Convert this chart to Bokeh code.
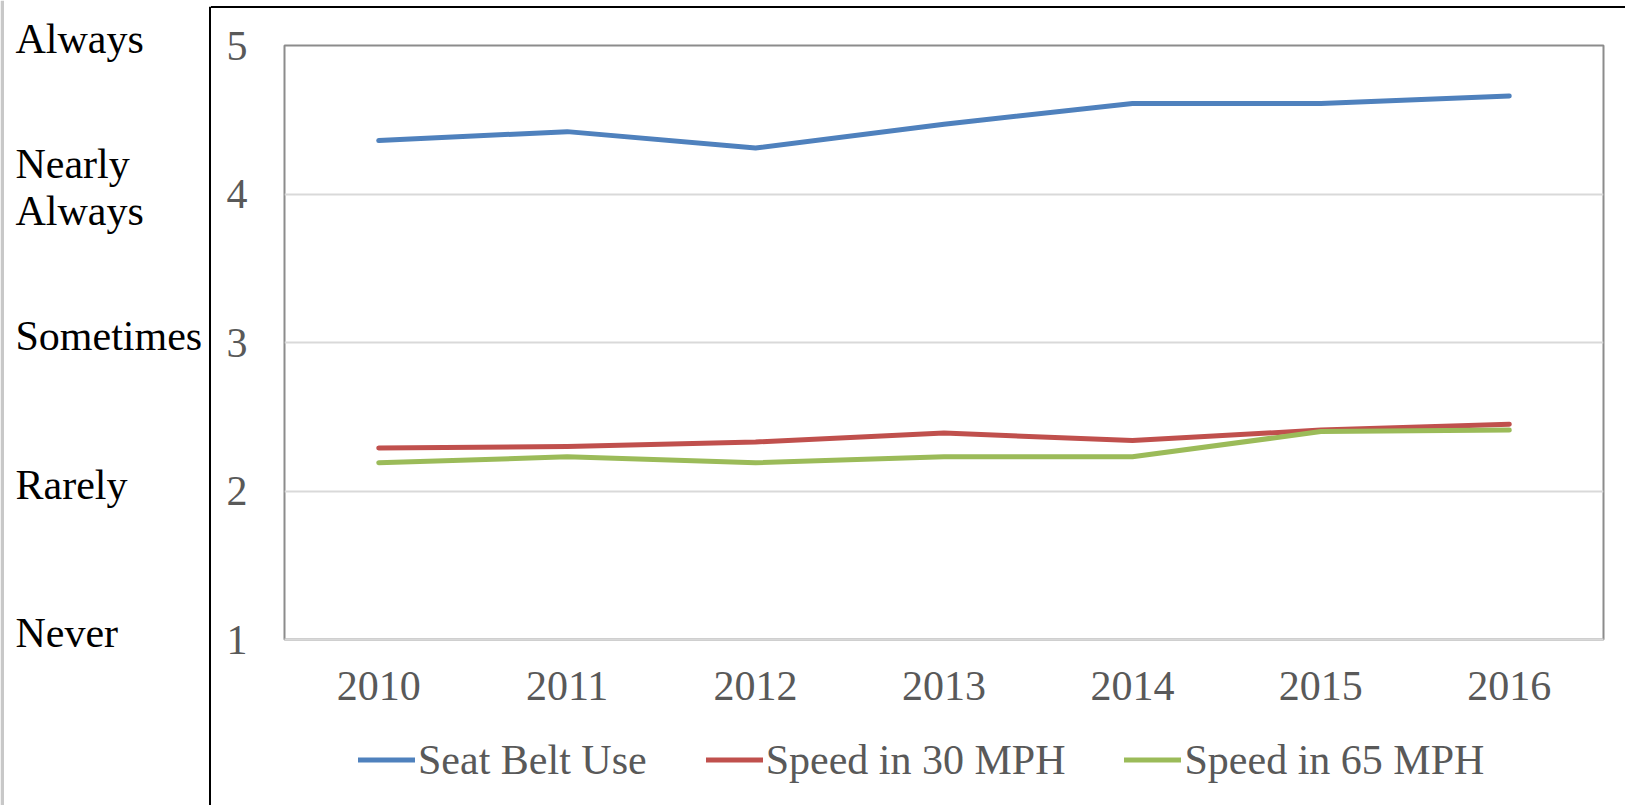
from bokeh.plotting import figure
from bokeh.models import (Range1d, FixedTicker, Legend, LegendItem, Div,
                          ColumnDataSource)
from bokeh.layouts import row, column
from bokeh.core.properties import value
from bokeh.embed import file_html
from bokeh.resources import INLINE

# ---- data ----
years = ["2010", "2011", "2012", "2013", "2014", "2015", "2016"]
seat_belt = [4.36, 4.42, 4.31, 4.47, 4.61, 4.61, 4.66]
speed_30 = [2.29, 2.30, 2.33, 2.39, 2.34, 2.41, 2.45]
speed_65 = [2.19, 2.23, 2.19, 2.23, 2.23, 2.40, 2.41]
series_names = ["Seat Belt Use", "Speed in 30 MPH", "Speed in 65 MPH"]
scale_values = [1, 2, 3, 4, 5]
scale_labels = ["Never", "Rarely", "Sometimes", "Nearly\nAlways", "Always"]

# ---- styles / geometry (page pixels) ----
FONT = "Liberation Serif"
FS = "42px"
GRAY_TXT = "#595959"
colors = ["#4f81bd", "#c0504d", "#9bbb59"]

PAGE_W, PAGE_H = 1625, 805
LEFT_W = 211                 # left column (scale words + box edge)
FRAME_L, FRAME_R = 284, 1603
FRAME_T, FRAME_B = 45, 639
TOP_GAP = 8                  # white gap + black line above main figure
MAIN_BOTTOM = 730            # where the legend strip starts
LEG_CY = 760                 # legend centre line
LEG_X = 358                  # first legend glyph starts here

n = len(years)
y_lo, y_hi = scale_values[0], scale_values[-1]
px_per_y = (FRAME_B - FRAME_T) / (y_hi - y_lo)


def page_y_to_val(py):
    return y_lo + (FRAME_B - py) / px_per_y


def blank_fig(w, h, xr, yr):
    f = figure(width=w, height=h, x_range=xr, y_range=yr,
               output_backend="svg", toolbar_location=None,
               x_axis_type=None, y_axis_type=None,
               min_border=0, min_border_left=0, min_border_right=0,
               min_border_top=0, min_border_bottom=0)
    f.outline_line_color = None
    f.grid.visible = False
    f.background_fill_color = "white"
    f.border_fill_color = "white"
    return f


# ---------------- left figure: scale words ----------------
lf = blank_fig(LEFT_W, PAGE_H, Range1d(0, LEFT_W),
               Range1d(page_y_to_val(PAGE_H), page_y_to_val(0)))

lf.quad(left=0, right=3.5, bottom=page_y_to_val(PAGE_H), top=page_y_to_val(0),
        fill_color="#c8c8c8", line_color=None)
lf.quad(left=208.5, right=210.5, bottom=page_y_to_val(PAGE_H),
        top=page_y_to_val(6.3), fill_color="black", line_color=None)

LINE_H = 47.5
tx, ty, tt, toff = [], [], [], []
for v, lab in zip(scale_values, scale_labels):
    lines = lab.split("\n")
    m = len(lines)
    for i, t in enumerate(lines):
        off = -6.5 + (i - (m - 1) / 2) * LINE_H
        tx.append(15)
        ty.append(v)
        tt.append(t)
        toff.append(off)
src = ColumnDataSource(dict(x=tx, y=ty, text=tt, yoff=toff))
lf.text(x="x", y="y", text="text", y_offset="yoff", source=src,
        text_font=value(FONT), text_font_size=FS, text_color="black",
        text_align="left", text_baseline="alphabetic")

# ---------------- main figure ----------------
MW = PAGE_W - LEFT_W
MH = MAIN_BOTTOM - TOP_GAP
p = figure(width=MW, height=MH, x_range=Range1d(0, n),
           y_range=Range1d(y_lo, y_hi),
           output_backend="svg", toolbar_location=None,
           min_border_left=FRAME_L - LEFT_W,
           min_border_right=PAGE_W - FRAME_R,
           min_border_top=FRAME_T - TOP_GAP,
           min_border_bottom=MAIN_BOTTOM - FRAME_B)
p.background_fill_color = "white"
p.border_fill_color = "white"
p.outline_line_color = "#8c8c8c"
p.outline_line_width = 2

xs = [i + 0.5 for i in range(n)]

p.xaxis.ticker = FixedTicker(ticks=xs)
p.xaxis.major_label_overrides = {x: y for x, y in zip(xs, years)}
p.xaxis.major_label_text_font = FONT
p.xaxis.major_label_text_font_size = FS
p.xaxis.major_label_text_color = GRAY_TXT
p.xaxis.major_label_standoff = 32
p.xaxis.major_tick_out = 0
p.xaxis.major_tick_in = 0
p.xaxis.major_tick_line_color = None
p.xaxis.minor_tick_line_color = None
p.xaxis.axis_line_color = "#d9d9d9"
p.xaxis.axis_line_width = 2

p.yaxis.ticker = FixedTicker(ticks=scale_values)
p.yaxis.major_label_text_font = FONT
p.yaxis.major_label_text_font_size = FS
p.yaxis.major_label_text_color = GRAY_TXT
p.yaxis.major_label_standoff = 37
p.yaxis.major_tick_out = 0
p.yaxis.major_tick_in = 0
p.yaxis.major_tick_line_color = None
p.yaxis.minor_tick_line_color = None
p.yaxis.axis_line_color = None

p.xgrid.grid_line_color = None
p.ygrid.ticker = FixedTicker(ticks=scale_values[1:-1])
p.ygrid.grid_line_color = "#d9d9d9"
p.ygrid.grid_line_width = 2

all_series = [seat_belt, speed_30, speed_65]
for vals, col in zip(all_series, colors):
    p.line(xs, vals, line_color=col, line_width=5,
           line_cap="round", line_join="round")

# ---------------- legend strip ----------------
LH = PAGE_H - MAIN_BOTTOM
lg = blank_fig(MW, LH, Range1d(0, 1), Range1d(0, 1))
key_renderers = []
for vals, col in zip(all_series, colors):
    r = lg.line(xs, vals, line_color=col, line_width=5, line_cap="round")
    r.visible = False          # only used as legend key
    key_renderers.append(r)
ITEM_H = 47
legend = Legend(items=[LegendItem(label=nm, renderers=[r])
                       for nm, r in zip(series_names, key_renderers)],
                orientation="horizontal",
                location=(LEG_X - FRAME_L,
                          PAGE_H - (LEG_CY + ITEM_H / 2)))
legend.glyph_width = 57
legend.glyph_height = ITEM_H
legend.label_height = ITEM_H
legend.label_standoff = 3
legend.spacing = 59
legend.padding = 0
legend.margin = 0
legend.border_line_color = None
legend.background_fill_alpha = 0
legend.label_text_font = FONT
legend.label_text_font_size = FS
legend.label_text_color = GRAY_TXT
lg.add_layout(legend)

top_line = Div(text="", width=MW, height=2, margin=(6, 0, 0, 0),
               styles={"background-color": "black"})

layout = row(lf, column(top_line, p, lg, spacing=0), spacing=0)

open("out.html", "w").write(file_html(layout, INLINE))
